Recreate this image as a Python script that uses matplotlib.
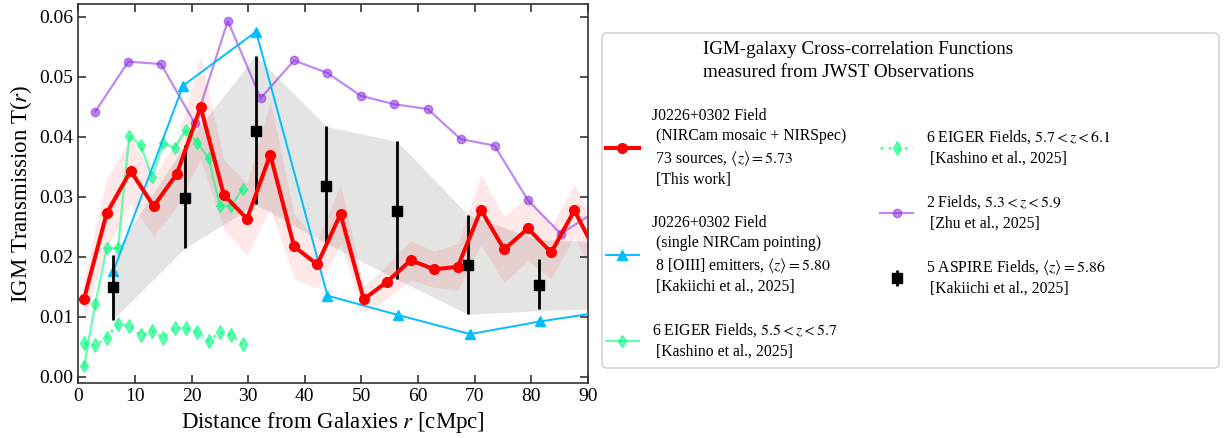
import numpy as np
import matplotlib
matplotlib.use("Agg")
import matplotlib.pyplot as plt
from matplotlib.patches import FancyBboxPatch

plt.rcParams['font.family'] = ['Liberation Serif', 'DejaVu Serif']
plt.rcParams['mathtext.fontset'] = 'stix'

# This work: J0226+0302 field (NIRCam mosaic + NIRSpec)
r_this = [1.0, 5.0, 9.25, 13.3, 17.4, 21.6, 25.7, 29.8, 33.9, 38.1, 42.2, 46.3,
          50.4, 54.5, 58.7, 62.8, 67.0, 71.1, 75.2, 79.4, 83.5, 87.6, 91.7]
T_this = [0.0129, 0.0272, 0.0343, 0.0284, 0.0338, 0.0449, 0.0303, 0.0263, 0.0370,
          0.0217, 0.0187, 0.0271, 0.0129, 0.0158, 0.0194, 0.0179, 0.0183, 0.0278,
          0.0212, 0.0247, 0.0207, 0.0277, 0.0202]
err_this = [0.0035, 0.0058, 0.0055, 0.0050, 0.0055, 0.0087, 0.0058, 0.0060, 0.0090,
            0.0054, 0.0040, 0.0050, 0.0022, 0.0028, 0.0033, 0.0030, 0.0039, 0.0058,
            0.0055, 0.0054, 0.0043, 0.0044, 0.0045]

# single NIRCam pointing (Kakiichi+2025)
r_single = [6.2, 18.5, 31.4, 44.0, 56.4, 69.2, 81.5, 94.0]
T_single = [0.0176, 0.0485, 0.0575, 0.0135, 0.0103, 0.0071, 0.0092, 0.0110]

# EIGER 5.5<z<5.7 and 5.7<z<6.1 (Kashino+2025)
r_eiger = [1, 3, 5, 7, 9, 11, 13, 15, 17, 19, 21, 23, 25, 27, 29]
T_eiger_lo = [0.0017, 0.0121, 0.0214, 0.0214, 0.0401, 0.0386, 0.0333, 0.0389,
              0.0381, 0.0411, 0.0390, 0.0364, 0.0285, 0.0285, 0.0313]
T_eiger_hi = [0.0056, 0.0052, 0.0065, 0.0088, 0.0085, 0.0069, 0.0076, 0.0065,
              0.0081, 0.0081, 0.0075, 0.0059, 0.0074, 0.0070, 0.0054]

# 2 fields (Zhu+2025)
r_zhu = [2.95, 8.83, 14.6, 20.6, 26.4, 32.2, 38.1, 44.0, 49.9, 55.8, 61.7,
         67.5, 73.5, 79.4, 85.2, 91.1]
T_zhu = [0.0441, 0.0525, 0.0521, 0.0422, 0.0593, 0.0464, 0.0527, 0.0506, 0.0468,
         0.0454, 0.0446, 0.0396, 0.0385, 0.0294, 0.0238, 0.0274]

# 5 ASPIRE fields (Kakiichi+2025)
r_aspire = [6.1, 18.8, 31.3, 43.8, 56.3, 68.8, 81.3]
T_aspire = [0.0149, 0.0298, 0.0410, 0.0318, 0.0276, 0.0186, 0.0153]
T_aspire_lo = [0.0095, 0.0214, 0.0287, 0.0222, 0.0162, 0.0104, 0.0113]
T_aspire_hi = [0.0203, 0.0386, 0.0535, 0.0417, 0.0392, 0.0270, 0.0196]

# shaded ASPIRE range
r_band = [6.1, 18.8, 31.3, 43.8, 56.3, 68.8, 81.3, 93.8]
band_lo = [0.0095, 0.0214, 0.0287, 0.0222, 0.0162, 0.0104, 0.0110, 0.0114]
band_hi = [0.0203, 0.0386, 0.0535, 0.0417, 0.0392, 0.0270, 0.0228, 0.0225]

W, H = 1225, 438
fig = plt.figure(figsize=(W / 100, H / 100), dpi=100)
ax = fig.add_axes([78.3 / W, 1 - 383 / H, (588 - 78.3) / W, (383 - 4) / H])

ax.fill_between(r_band, band_lo, band_hi, color='0.55', alpha=0.23, lw=0, zorder=1)
lo = np.array(T_this) - np.array(err_this)
hi = np.array(T_this) + np.array(err_this)
ax.fill_between(r_this, lo, hi, color='red', alpha=0.09, lw=0, zorder=2)

l_this, = ax.plot(r_this, T_this, '-o', color='red', lw=2.9, ms=7, zorder=10,
                  label='J0226+0302 Field\n (NIRCam mosaic + NIRSpec)\n'
                        ' 73 sources, $\\langle z\\rangle = 5.73$\n [This work]')
l_single, = ax.plot(r_single, T_single, '-^', color='deepskyblue', lw=1.4, ms=7, zorder=6,
                    label='J0226+0302 Field\n (single NIRCam pointing)\n'
                          ' 8 [OIII] emitters, $\\langle z\\rangle = 5.80$\n [Kakiichi et al., 2025]')
l_e1, = ax.plot(r_eiger, T_eiger_lo, '-d', color='springgreen', alpha=0.6, lw=1.6, ms=6, zorder=5,
                label='6 EIGER Fields, $5.5 < z < 5.7$\n [Kashino et al., 2025]')
l_e2, = ax.plot(r_eiger, T_eiger_hi, ':d', color='springgreen', alpha=0.6, lw=2.2, ms=7, zorder=5,
                label='6 EIGER Fields, $5.7 < z < 6.1$\n [Kashino et al., 2025]')
l_zhu, = ax.plot(r_zhu, T_zhu, '-o', color='blueviolet', alpha=0.55, lw=1.6, ms=6, zorder=4,
                 label='2 Fields, $5.3 < z < 5.9$\n [Zhu et al., 2025]')
yerr = [np.array(T_aspire) - np.array(T_aspire_lo), np.array(T_aspire_hi) - np.array(T_aspire)]
l_asp = ax.errorbar(r_aspire, T_aspire, yerr=yerr, fmt='s', color='black', ms=6.5,
                    elinewidth=2, capsize=0, zorder=8,
                    label='5 ASPIRE Fields, $\\langle z\\rangle = 5.86$\n [Kakiichi et al., 2025]')

ax.set_xlim(0, 90)
ax.set_ylim(-0.00105, 0.0621)
ax.set_xticks(np.arange(0, 91, 10))
ax.set_yticks(np.arange(0, 0.061, 0.01))
ax.tick_params(direction='in', top=True, right=True, length=6, width=1.2, labelsize=14,
               color='0.2')
for s in ax.spines.values():
    s.set_linewidth(1.2)
    s.set_color('0.2')
ax.set_xlabel('Distance from Galaxies $r$ [cMpc]', fontsize=16.5)
ax.set_ylabel('IGM Transmission T($r$)', fontsize=16.5)

# legend frame drawn separately (wider than the legend contents)
frame = FancyBboxPatch((602 / W, 1 - 368 / H), 617 / W, 335 / H,
                       boxstyle='round,pad=0,rounding_size=0.004', mutation_aspect=W / H,
                       transform=fig.transFigure, facecolor='white', edgecolor='0.8',
                       lw=1.0, zorder=0)
fig.add_artist(frame)

leg = fig.legend(handles=[l_this, l_single, l_e1, l_e2, l_zhu, l_asp],
                 loc='upper left', bbox_to_anchor=(606 / W, 1 - 41 / H),
                 borderaxespad=0, borderpad=0, frameon=False, ncol=2, fontsize=11.3,
                 title='IGM-galaxy Cross-correlation Functions\nmeasured from JWST Observations',
                 title_fontsize=13.7, labelspacing=1.7, handlelength=2.1, handletextpad=0.8,
                 columnspacing=2.2)
for t in leg.get_texts():
    t.set_linespacing(1.35)
leg.get_title().set_linespacing(1.45)

fig.savefig('out.png', dpi=100)
